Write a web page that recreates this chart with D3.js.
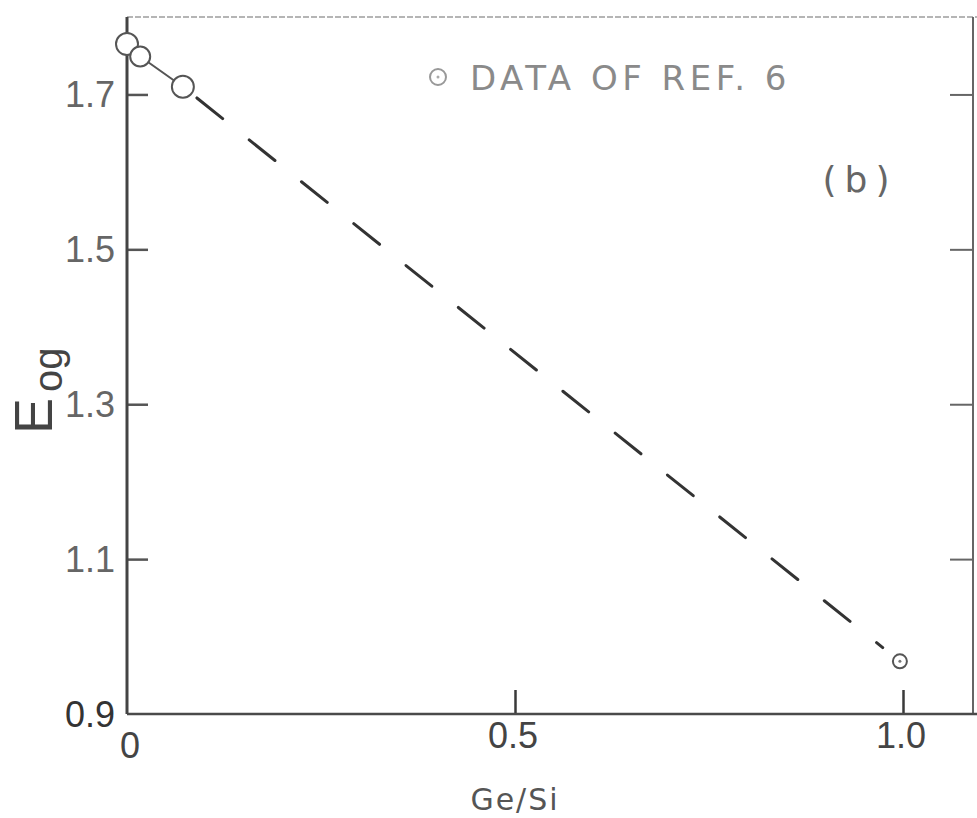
<!DOCTYPE html>
<html>
<head>
<meta charset="utf-8">
<script src="https://cdn.jsdelivr.net/npm/d3@7"></script>
<style>
  html, body { margin: 0; padding: 0; background: #fff; }
  svg { display: block; }
</style>
</head>
<body>
<div id="chart"></div>
<script>
// ─── Data ───
const geSi = [0, 0.017, 0.072, 0.996];
const eog = [1.765, 1.749, 1.71, 0.968];
const markerKind = ["open", "open", "open", "dotted"];
const xTicks = [0, 0.5, 1.0];
const xTickLabels = ["0", "0.5", "1.0"];
const yTicks = [0.9, 1.1, 1.3, 1.5, 1.7];
const yTickLabels = ["0.9", "1.1", "1.3", "1.5", "1.7"];

const width = 977;
const height = 818;
const INK = "#3a3a3a";

const svg = d3
  .select("#chart")
  .append("svg")
  .attr("width", width)
  .attr("height", height);

// ── Scales ──
const x = d3.scaleLinear().domain([0, 1]).range([127, 903]);
const y = d3.scaleLinear().domain([0.9, 1.8]).range([714, 17]);
const xRight = 973;

// ── Frame ──
svg.append("line")
  .attr("x1", x(0)).attr("x2", width)
  .attr("y1", y(1.8)).attr("y2", y(1.8))
  .attr("stroke", "#b5b5b5").attr("stroke-width", 2)
  .attr("stroke-dasharray", "6,2");

svg.append("line")
  .attr("x1", xRight).attr("x2", xRight)
  .attr("y1", y(1.8)).attr("y2", y(0.9))
  .attr("stroke", "#666").attr("stroke-width", 2);

// bottom axis, ticks pointing inward
const xAxis = d3.axisTop(x).tickValues(xTicks.filter((d) => d > 0)).tickSize(24).tickFormat("");
const gx = svg.append("g").attr("transform", `translate(0,${y(0.9)})`).call(xAxis);
gx.select(".domain").remove();
gx.selectAll(".tick line").attr("stroke", INK).attr("stroke-width", 2.5);
svg.append("line")
  .attr("x1", x(0)).attr("x2", width)
  .attr("y1", y(0.9)).attr("y2", y(0.9))
  .attr("stroke", "#4a4a4a").attr("stroke-width", 2.5);

// left axis, ticks pointing inward
const yAxis = d3.axisRight(y).tickValues(yTicks.filter((d) => d > 0.9)).tickSize(21).tickFormat("");
const gy = svg.append("g").attr("transform", `translate(${x(0)},0)`).call(yAxis);
gy.select(".domain").remove();
gy.selectAll(".tick line").attr("stroke", "#555").attr("stroke-width", 2.5);
svg.append("line")
  .attr("x1", x(0)).attr("x2", x(0))
  .attr("y1", y(1.8)).attr("y2", y(0.9))
  .attr("stroke", "#444").attr("stroke-width", 3);

// right axis ticks
const yAxisR = d3.axisLeft(y).tickValues(yTicks.filter((d) => d > 0.9)).tickSize(23).tickFormat("");
const gyr = svg.append("g").attr("transform", `translate(${xRight},0)`).call(yAxisR);
gyr.select(".domain").remove();
gyr.selectAll(".tick line").attr("stroke", "#666").attr("stroke-width", 2);

// ── Tick labels ──
const labelFont = "'Liberation Sans', Arial, sans-serif";
svg.append("g")
  .selectAll("text")
  .data(yTicks)
  .join("text")
  .attr("x", x(0) - 12)
  .attr("y", (d) => y(d) + 13)
  .attr("text-anchor", "end")
  .style("font-family", labelFont)
  .style("font-size", "36px")
  .style("fill", (d) => (d === 0.9 ? "#333" : "#666"))
  .text((d, i) => yTickLabels[i]);

svg.append("g")
  .selectAll("text")
  .data(xTicks)
  .join("text")
  .attr("x", (d) => x(d) + (d === 0 ? 3 : -2))
  .attr("y", (d) => (d === 0 ? 758 : 748))
  .attr("text-anchor", "middle")
  .style("font-family", labelFont)
  .style("font-size", "36px")
  .style("fill", "#444")
  .text((d, i) => xTickLabels[i]);

// ── Axis titles ──
svg.append("text")
  .attr("x", x(0.5))
  .attr("y", 810)
  .attr("text-anchor", "middle")
  .style("font-family", "'DejaVu Sans', sans-serif")
  .style("font-size", "30px")
  .style("letter-spacing", "2px")
  .style("fill", "#555")
  .text("Ge/Si");

const yTitle = svg.append("text")
  .attr("transform", "translate(52,434) rotate(-90)")
  .style("font-family", labelFont)
  .style("fill", "#444");
yTitle.append("tspan").style("font-size", "54px").text("E");
yTitle.append("tspan").attr("dy", 10).attr("dx", 6).style("font-size", "40px").text("og");

// ── Fit line: solid through the low-Ge points, dashed to the Ge end ──
const pts = geSi.map((g, i) => [x(g), y(eog[i])]);
svg.append("path")
  .attr("d", d3.line()(pts.slice(0, 3)))
  .attr("fill", "none")
  .attr("stroke", "#555")
  .attr("stroke-width", 2);

const [a, b] = [pts[2], pts[3]];
const len = Math.hypot(b[0] - a[0], b[1] - a[1]);
const shrink = (p, q, d) => [p[0] + ((q[0] - p[0]) * d) / len, p[1] + ((q[1] - p[1]) * d) / len];
svg.append("path")
  .attr("d", d3.line()([shrink(a, b, 18), shrink(b, a, 22)]))
  .attr("fill", "none")
  .attr("stroke", "#333")
  .attr("stroke-width", 3)
  .attr("stroke-linecap", "round")
  .attr("stroke-dasharray", "33,34");

// ── Markers ──
const marks = svg.append("g")
  .selectAll("g")
  .data(geSi.map((g, i) => ({ g, e: eog[i], kind: markerKind[i] })))
  .join("g")
  .attr("transform", (d) => `translate(${x(d.g)},${y(d.e)})`);
marks.append("circle")
  .attr("r", (d, i) => (d.kind === "dotted" ? 7 : i === 1 ? 10 : 11))
  .attr("fill", "#fff")
  .attr("stroke", "#555")
  .attr("stroke-width", 2);
marks.filter((d) => d.kind === "dotted")
  .append("circle")
  .attr("r", 1.5)
  .attr("fill", "#777");

// ── Legend and panel tag ──
const lg = svg.append("g").attr("transform", "translate(438,77)");
lg.append("circle").attr("r", 8).attr("fill", "none").attr("stroke", "#999").attr("stroke-width", 2);
lg.append("circle").attr("r", 1.5).attr("fill", "#aaa");
lg.append("text")
  .attr("x", 32)
  .attr("y", 13)
  .style("font-family", "'DejaVu Sans', sans-serif")
  .style("font-size", "34px")
  .style("letter-spacing", "4.5px")
  .style("fill", "#8a8a8a")
  .text("DATA OF REF. 6");

svg.append("text")
  .attr("x", 860)
  .attr("y", 192)
  .attr("text-anchor", "middle")
  .style("font-family", "'DejaVu Sans', sans-serif")
  .style("font-size", "36px")
  .style("letter-spacing", "8px")
  .style("fill", "#666")
  .text("(b)");
</script>
</body>
</html>
